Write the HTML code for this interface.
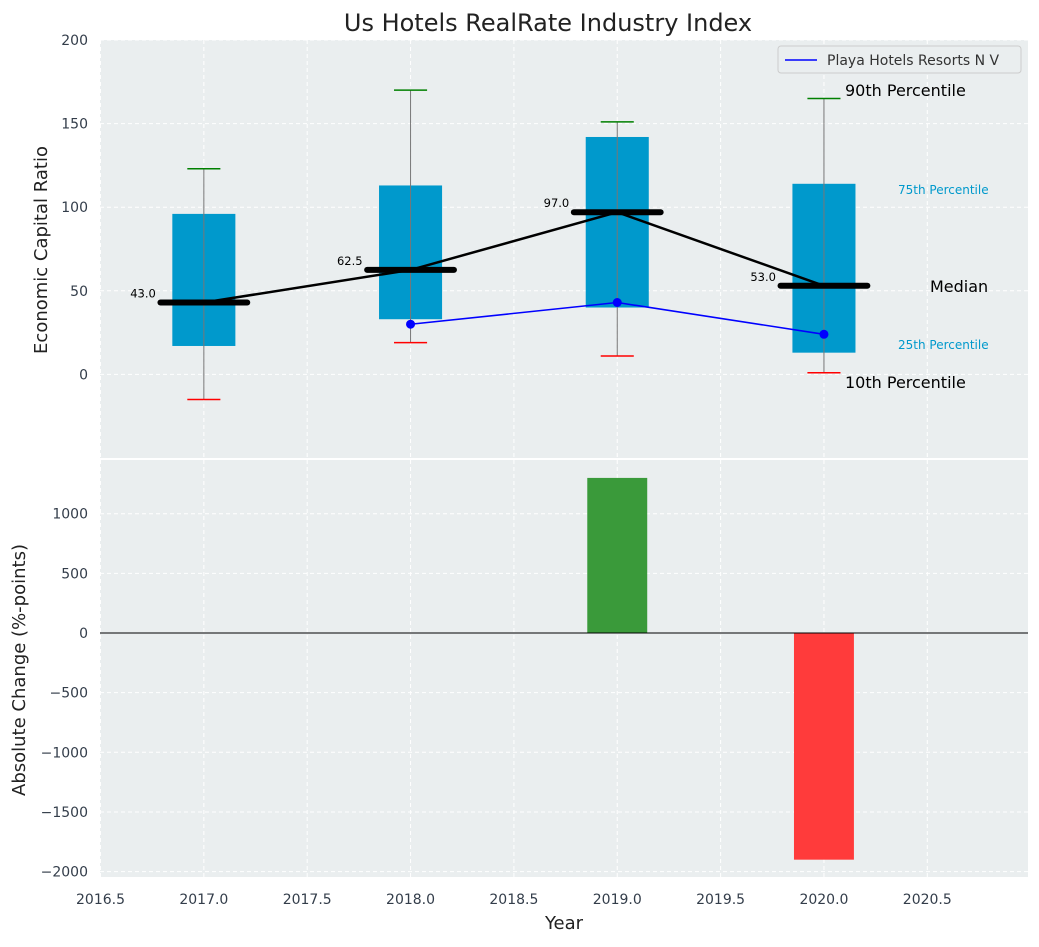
<!DOCTYPE html>
<html><head><meta charset="utf-8"><style>
body{margin:0;background:#fff;font-family:"Liberation Sans","DejaVu Sans",sans-serif}
svg text{font-family:"DejaVu Sans","Liberation Sans",sans-serif}
</style></head><body>
<svg id="c" width="1039" height="942" xmlns="http://www.w3.org/2000/svg"></svg>
<script>
const years=[2017,2018,2019,2020];
const p10=[-15,19,11,1];
const q1=[17,33,40,13];
const med=[43,62.5,97,53];
const q3=[96,113,142,114];
const p90=[123,170,151,165];
const companyYears=[2018,2019,2020];
const companyVals=[30,43,24];
const changeYears=[2019,2020];
const changeVals=[1300,-1900];
const xTicks=[2016.5,2017,2017.5,2018,2018.5,2019,2019.5,2020,2020.5];
const yTopTicks=[0,50,100,150,200];
const yBotTicks=[-2000,-1500,-1000,-500,0,500,1000];

const NS="http://www.w3.org/2000/svg";
const svg=document.getElementById('c');
function el(t,a,txt){const e=document.createElementNS(NS,t);for(const k in a)e.setAttribute(k,a[k]);if(txt!==undefined)e.textContent=txt;svg.appendChild(e);return e;}
const L=100,R=1028;
const X=v=>100.5+(v-2016.5)*206.7;
const T0=40,T1=458,Y=v=>T0+(200-v)*(T1-T0)/250;
const B0=460,B1=877,Yb=v=>633-v*0.1193;

let e;
e=el('rect',{x:L,y:T0,width:R-L,height:T1-T0,fill:'#eaeeef'});

e=el('rect',{x:L,y:B0,width:R-L,height:B1-B0,fill:'#eaeeef'});

// grids
xTicks.forEach(t=>{
 el('line',{x1:X(t),x2:X(t),y1:T0,y2:T1,stroke:'#fff','stroke-dasharray':'4,3','stroke-width':1});
 el('line',{x1:X(t),x2:X(t),y1:B0,y2:B1,stroke:'#fff','stroke-dasharray':'4,3','stroke-width':1});
 e=el('text',{x:X(t),y:904,'text-anchor':'middle','font-size':14,fill:'#333d4a'},t.toFixed(1));
 
});
yTopTicks.forEach(t=>{
 el('line',{x1:L,x2:R,y1:Y(t),y2:Y(t),stroke:'#fff','stroke-dasharray':'4,3'});
 e=el('text',{x:88,y:Y(t)+5,'text-anchor':'end','font-size':14,fill:'#333d4a'},t);
 
});
yBotTicks.forEach(t=>{
 el('line',{x1:L,x2:R,y1:Yb(t),y2:Yb(t),stroke:'#fff','stroke-dasharray':'4,3'});
 e=el('text',{x:88,y:Yb(t)+5,'text-anchor':'end','font-size':14,fill:'#333d4a'},t<0?'\u2212'+(-t):t);
 
});
// boxes
const bw=0.305*206.7, cap=0.08*206.7, mw=0.42*206.7;
years.forEach((y,i)=>{
 const cx=X(y);
 e=el('rect',{x:cx-bw/2,y:Y(q3[i]),width:bw,height:Y(q1[i])-Y(q3[i]),fill:'#0099cc'});
 
 el('line',{x1:cx,x2:cx,y1:Y(p90[i]),y2:Y(p10[i]),stroke:'#777','stroke-width':1});
 e=el('line',{x1:cx-cap,x2:cx+cap,y1:Y(p90[i]),y2:Y(p90[i]),stroke:'green','stroke-width':1.5});
 
 e=el('line',{x1:cx-cap,x2:cx+cap,y1:Y(p10[i]),y2:Y(p10[i]),stroke:'red','stroke-width':1.5});
 
});
// median line
e=el('polyline',{points:years.map((y,i)=>X(y)+','+Y(med[i])).join(' '),fill:'none',stroke:'#000','stroke-width':2.5});

years.forEach((y,i)=>{
 e=el('line',{x1:X(y)-mw/2,x2:X(y)+mw/2,y1:Y(med[i]),y2:Y(med[i]),stroke:'#000','stroke-width':6,'stroke-linecap':'round'});
 
 e=el('text',{x:X(y)-48,y:Y(med[i])-5,'text-anchor':'end','font-size':11.5,fill:'#000'},med[i].toFixed(1));
 
});
// company line
e=el('polyline',{points:companyYears.map((y,i)=>X(y)+','+Y(companyVals[i])).join(' '),fill:'none',stroke:'blue','stroke-width':1.6});

companyYears.forEach((y,i)=>{e=el('circle',{cx:X(y),cy:Y(companyVals[i]),r:4.5,fill:'blue'});
 });
// annotations
[['90th Percentile',845,96,16,'#000'],['75th Percentile',898,194,12,'#0099cc'],['Median',930,292,16,'#000'],['25th Percentile',898,349,12,'#0099cc'],['10th Percentile',845,388,16,'#000']].forEach(a=>{
 e=el('text',{x:a[1],y:a[2],'font-size':a[3],fill:a[4]},a[0]);
 
});
// legend
e=el('rect',{x:778,y:46,width:243,height:27,rx:3,fill:'#eaeeef',stroke:'#ccc'});

el('line',{x1:785,x2:817,y1:60,y2:60,stroke:'blue','stroke-width':1.6});
e=el('text',{x:827,y:65,'font-size':14,fill:'#333'},'Playa Hotels Resorts N V');

// bars
const barW=0.29*206.7;
changeYears.forEach((y,i)=>{
 const v=changeVals[i];
 e=el('rect',{x:X(y)-barW/2,y:Math.min(Yb(v),Yb(0)),width:barW,height:Math.abs(Yb(v)-Yb(0)),fill:v>=0?'#3a9a3a':'#ff3b3b'});
 
});
el('line',{x1:L,x2:R,y1:Yb(0),y2:Yb(0),stroke:'#000','stroke-width':1});
// titles
e=el('text',{x:548,y:31,'text-anchor':'middle','font-size':24,fill:'#222'},'Us Hotels RealRate Industry Index');

e=el('text',{x:47,y:250,'text-anchor':'middle','font-size':18,fill:'#222',transform:'rotate(-90 47 250)'},'Economic Capital Ratio');

e=el('text',{x:25,y:670,'text-anchor':'middle','font-size':18,fill:'#222',transform:'rotate(-90 25 670)'},'Absolute Change (%-points)');

e=el('text',{x:564,y:929,'text-anchor':'middle','font-size':18,fill:'#222'},'Year');

</script>
</body></html>
